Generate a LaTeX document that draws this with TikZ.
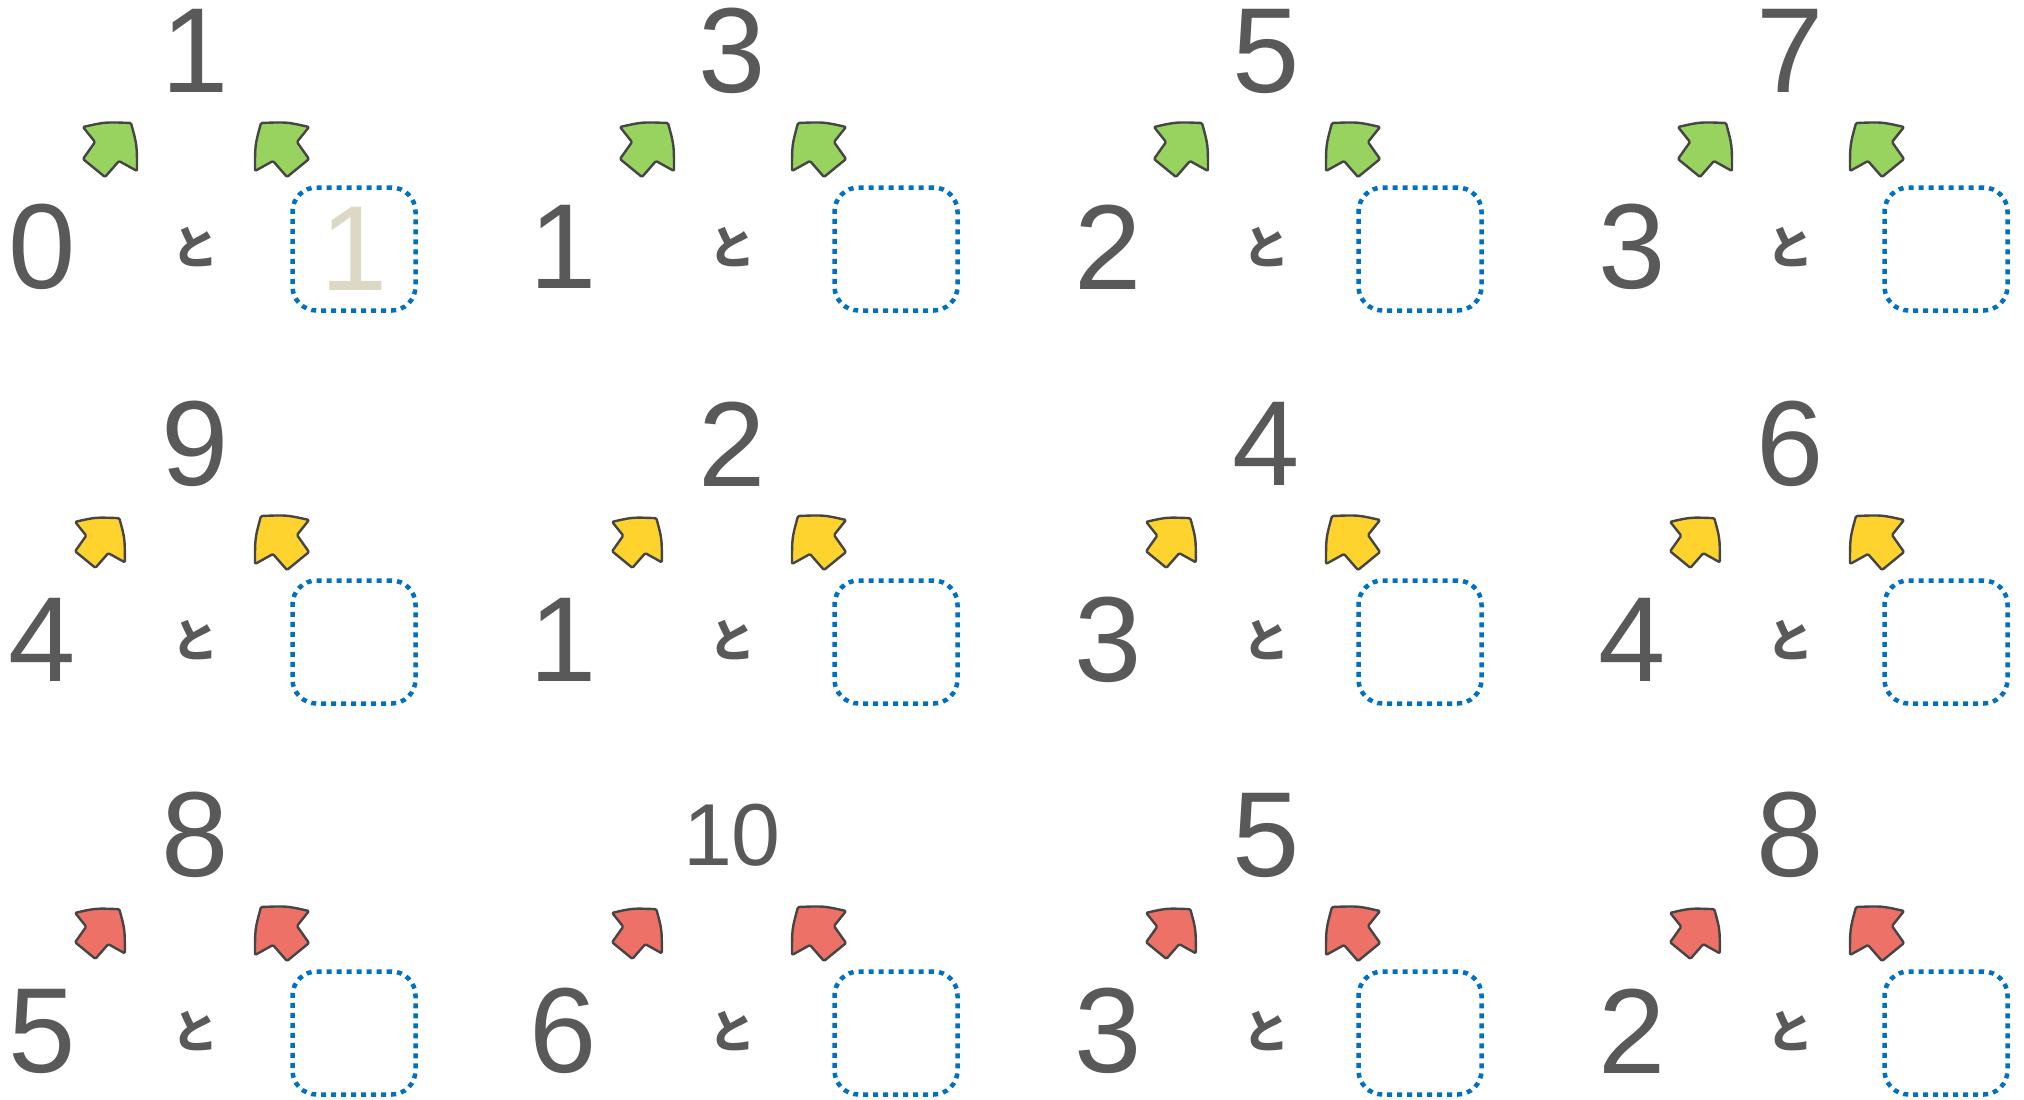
\documentclass[tikz,border=0pt]{standalone}
\usepackage{fontspec}
\newfontfamily\jpfont{Noto Sans CJK JP}
\newfontfamily\digitfont{Liberation Sans}
\usetikzlibrary{positioning}
\usepackage{xcolor}
\definecolor{numgray}{HTML}{595959}
\definecolor{hintbeige}{HTML}{DDD8C4}
\definecolor{boxblue}{HTML}{0070C0}
\definecolor{arrgreen}{HTML}{97D35E}
\definecolor{arryellow}{HTML}{FFD32E}
\definecolor{arrred}{HTML}{ED7167}
\definecolor{arredge}{HTML}{454545}

\begin{document}
\begin{tikzpicture}[x=1pt, y=-1pt,
  num/.style={font=\digitfont\fontsize{121}{121}\selectfont, text=numgray, inner sep=0pt},
  topnum/.style={num, font=\digitfont\fontsize{#1}{#1}\selectfont},
  tochar/.style={font=\jpfont\bfseries\fontsize{46}{46}\selectfont, text=numgray, inner sep=0pt},
  answerbox/.style={draw=boxblue, line width=4.5pt, dash pattern=on 5pt off 5pt, rounded corners=24pt, minimum width=123pt, minimum height=123pt, inner sep=0pt},
  hint/.style={num, text=hintbeige},
  bigarrow/.style={draw=arredge, line width=2.4pt, line join=round, rounded corners=1.2pt},
  addarrow/.pic={\draw[bigarrow, pic actions] (-27,-23) .. controls (-5,-28) .. (21,-27) .. controls (27,-5) .. (27,21) -- (9,11) -- (-5,27) -- (-27,9) -- (-15,-8) -- cycle;}
]
\useasboundingbox (0,0) rectangle (2024,1100);

% Rows (arrow colour, left arrow shift/scale, then top/left numbers of each column)
\foreach \r/\ry/\fillc/\ls/\lsc/\cells in {1/247/arrgreen/0/1/{1/0,3/1,5/2,7/3},
                                  2/640/arryellow/-10/0.92/{9/4,2/1,4/3,6/4},
                                  3/1031/arrred/-10/0.92/{8/5,10/6,5/3,8/2}}{
  \foreach \t/\l [count=\c] in \cells {
    \pgfmathsetmacro\cx{{195,732,1266,1790}[\c-1]}
    \pgfmathsetmacro\lx{{42,563,1108,1632}[\c-1]}
    \pgfmathsetmacro\bx{{354,896,1420,1946}[\c-1]}
    \ifnum\t>9 \def\topsize{88}\else\def\topsize{121}\fi
    % Nodes
    \node[topnum=\topsize] (top-\r-\c) at (\cx,\ry-196) {\t};
    \node[num] (left-\r-\c) at (\lx,\ry) {\l};
    \node[tochar] (to-\r-\c) at (\cx,\ry) {と};
    \node[answerbox] (box-\r-\c) at (\bx,\ry+2) {};
    % Arrows pointing up to the top number
    \pic[fill=\fillc, scale=\lsc] at (\cx-85+\ls,\ry-97) {addarrow};
    \pic[fill=\fillc, xscale=-1] at (\cx+87,\ry-97) {addarrow};
  }
}

% Example answer
\node[hint] (hint) at (box-1-1) {1};
\end{tikzpicture}
\end{document}
